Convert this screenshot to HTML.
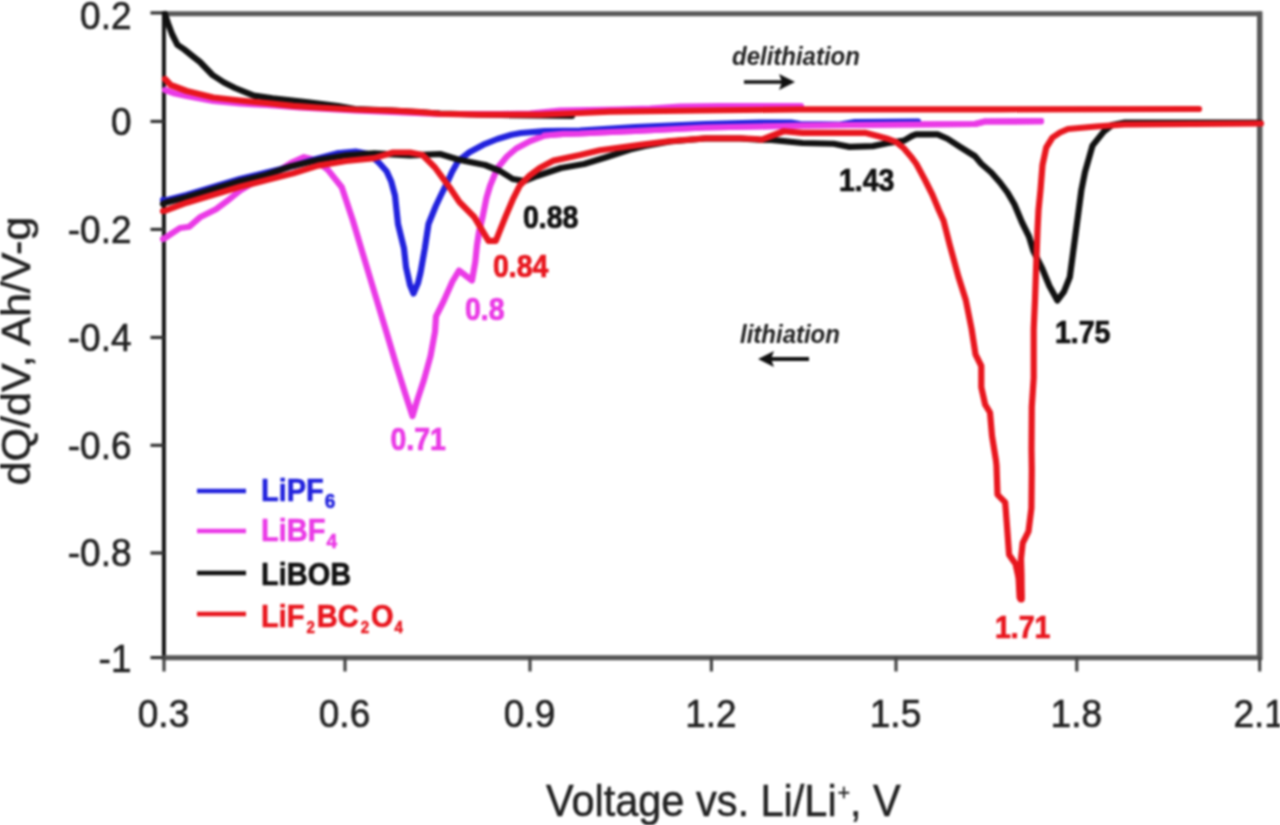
<!DOCTYPE html>
<html><head><meta charset="utf-8"><title>dQ/dV plot</title>
<style>html,body{margin:0;padding:0;background:#fff;width:1280px;height:825px;overflow:hidden}svg{display:block;filter:blur(0.9px)}</style>
</head><body>
<svg width="1280" height="825" viewBox="0 0 1280 825">
<g fill="none" stroke-linecap="butt">
<line x1="164" y1="13.7" x2="1262" y2="13.7" stroke="#585858" stroke-width="5"/>
<line x1="1259.7" y1="11.5" x2="1259.7" y2="660" stroke="#585858" stroke-width="5.5"/>
<line x1="163.9" y1="11" x2="163.9" y2="660" stroke="#151515" stroke-width="4"/>
<line x1="162" y1="657.7" x2="1262" y2="657.7" stroke="#555" stroke-width="5"/>
<line x1="150.5" y1="12.90" x2="164" y2="12.90" stroke="#333" stroke-width="3.2"/>
<line x1="150.5" y1="121.40" x2="164" y2="121.40" stroke="#333" stroke-width="3.2"/>
<line x1="150.5" y1="229.40" x2="164" y2="229.40" stroke="#333" stroke-width="3.2"/>
<line x1="150.5" y1="337.45" x2="164" y2="337.45" stroke="#333" stroke-width="3.2"/>
<line x1="150.5" y1="445.30" x2="164" y2="445.30" stroke="#333" stroke-width="3.2"/>
<line x1="150.5" y1="553.00" x2="164" y2="553.00" stroke="#333" stroke-width="3.2"/>
<line x1="150.5" y1="657.60" x2="164" y2="657.60" stroke="#333" stroke-width="3.2"/>
<line x1="164.00" y1="657" x2="164.00" y2="671.5" stroke="#444" stroke-width="3.2"/>
<line x1="345.00" y1="657" x2="345.00" y2="671.5" stroke="#444" stroke-width="3.2"/>
<line x1="530.00" y1="657" x2="530.00" y2="671.5" stroke="#444" stroke-width="3.2"/>
<line x1="711.40" y1="657" x2="711.40" y2="671.5" stroke="#444" stroke-width="3.2"/>
<line x1="896.00" y1="657" x2="896.00" y2="671.5" stroke="#444" stroke-width="3.2"/>
<line x1="1076.80" y1="657" x2="1076.80" y2="671.5" stroke="#444" stroke-width="3.2"/>
<line x1="1259.70" y1="657" x2="1259.70" y2="671.5" stroke="#444" stroke-width="3.2"/>
</g>
<g fill="none" stroke-width="6.2" stroke-linejoin="round" stroke-linecap="round">
<polyline stroke="#111" points="165,14 165.3,15.3 168,23.3 172,34 177.3,44.7 184,49.3 193.3,56.7 200,62 206.7,69 212.5,75 224,82.5 235,88 253.8,95.6 272.5,98.4 310,102.5 338,106 355,109 392,110.5 440,113.5 500,115 572,116"/>
<polyline stroke="#ea3ae6" points="165,90 175,93.5 186.7,96 213.3,101 240,103.5 266.7,105 300,107.5 355,110.5 440,114 500,114.2 530,113.5 560,110.5 617,109.5 650,108.5 680,106.5 720,106 801,106"/>
<polyline stroke="#e8161e" points="165,79 170.7,85 186.7,91 213.3,97.5 240,100.5 266.7,103 293.3,105.8 317.5,107.5 355,109.5 392.5,110.6 417.5,111.9 440,113.75 480,114.7 540,114.7 580,113 610,111.6 700,110.5 800,109.4 1000,109.3 1199,109"/>
<polyline stroke="#ea3ae6" points="163,239 164,238.7 180,228 189.3,226.7 200,217.3 216,209.3 226.7,201.3 240,190.7 253.3,182.7 266.7,177.3 280,170 293,162 304,157.2 315,160 327.5,169.4 341.8,187.3 352.7,220 363.6,256.4 374.5,292.7 385.5,329 396.4,365.5 405.5,394.5 412.5,416 417.5,399.4 424,379.7 430.6,355.7 435,331.7 436,316.4 443.7,301 452.4,281.5 459,270.6 472,280.4 475.3,261.8 477,245 479,232 482.5,217.6 486.4,198.2 490,186 494.1,176 497.5,168 506.9,156.5 516.25,148.5 530.3,141 544.4,135.5 563.1,133.9 580,133.5 600,132.5 635,131 705,127.5 780,126 800,125.5 900,124.5 975,124 985,121.5 1041,121.2"/>
<polyline stroke="#2222dd" points="163,200 165.3,200.5 186.7,195 213.3,187 240,179 266.7,172.5 293.3,166 318,158.5 336.9,153.4 355.6,151.6 369.7,154.4 379,162.8 386.6,171.25 391.25,181.6 395,195.6 398,224 404,248.5 406,267 410,285 413.5,293.5 418,283 420.5,272.7 424.8,248.5 428.5,224 435.8,206 441,195 447,183 452,172 458.2,161 469.4,152.2 483.4,144.7 497.5,139 511.6,134.8 521,133 544.4,131.1 580,130.5 635,127 705,124 760,122.5 791,122.5 800,124 840,124.5 855,122 918,121.5"/>
<polyline stroke="#ea3ae6" points="544.4,135.5 563.1,133.9 580,133.5 600,132.5 635,131 705,127.5 780,126 800,125.5 900,124.5 975,124 985,121.5 1041,121.2"/>
<polyline stroke="#111" points="163,204 165.3,202.7 186.7,197.3 213.3,189.3 240,181.3 266.7,174.7 290,166.6 318,160 346,155.3 374.4,153.4 410,155.3 440,154 458,159.5 470,162 485,165 500,171 512.7,179 524.8,181 537,176 561,168 584,164 607,157 630,149.5 645,146 670,141.5 705,138.5 740,138.5 762,140 771.3,139.8 802.5,143 833.75,143.75 849.4,146.9 872.8,146.1 888.4,143 904,140.6 911.9,136 916,134.4 937.5,134.4 947.5,138.75 960,146.9 975,156.25 981.25,163.75 991.25,172.5 1000,182.5 1007.5,192.5 1014.5,204.5 1021.8,222 1029,236.5 1033.4,251 1042.2,268.5 1049.4,286 1057.4,300.5 1064,291.7 1069.8,277.2 1072.7,255.4 1075.6,233.6 1078.5,211.8 1081.4,190 1085,172 1092.5,145.6 1103.75,131.6 1112,125 1125,122.5 1260,122.5"/>
<polyline stroke="#e8161e" points="163,211 165.3,210.7 186.7,202.7 213.3,194.7 240,186.7 266.7,180 293.3,173.3 318,165.6 346,161 374.4,158.1 393,152.5 410,152.5 422.5,155 435,167.5 449.7,187.6 459.4,202 474,216.7 488.5,240.9 495.8,240.9 505.5,216.7 512.7,199.7 520,185.2 529.7,175.5 539.7,168.1 553.75,160.6 580,155 600,150.2 642.2,144.6 670.3,141.1 705.5,138.3 740.6,138.3 755.6,139 761.7,139.7 771.3,136 783.75,131.25 802.5,132.8 865,132.8 877.5,136 888.4,139 896.25,142.2 904,148.4 911.9,157.8 916.25,163.75 925,180 932.5,195 938.75,210 943.6,220.7 949.5,244 958.2,276 965.8,300 971.6,329 975.5,354.3 981.3,366 981.3,387.3 985.2,404.7 990,412.5 992,435.8 995.9,460 996.5,465.5 997.5,494.6 1005.2,502.4 1007.1,527.6 1009.1,554.7 1015.9,564.4 1018.8,576 1020.7,599.3 1021.7,599.3 1021.5,575 1021,558.6 1022.7,543 1028.5,531.4 1031.4,508.2 1031.8,470 1031.5,450 1031.8,406.7 1033.7,377.6 1033.7,329 1035,300 1036.3,262.7 1037.5,230 1038.5,210 1040.5,190 1042.5,165 1046.25,147.5 1052.5,137.5 1060,132.5 1068,129 1096,126.5 1124.4,124.5 1261,123.5"/>
<polyline stroke="#e8161e" stroke-width="8" points="1017,566 1019.5,578 1020.5,597"/>
</g>
<g stroke-width="4.5">
<line x1="197" y1="491" x2="246" y2="491" stroke="#2222dd"/>
<line x1="197" y1="531" x2="246" y2="531" stroke="#ea3ae6"/>
<line x1="197" y1="573" x2="246" y2="573" stroke="#111"/>
<line x1="197" y1="614" x2="246" y2="614" stroke="#e8161e"/>
</g>
<text transform="translate(131.5,29.4) scale(1,1.07)" font-family="'Liberation Sans', sans-serif" font-size="37" fill="#222" text-anchor="end" stroke="#222" stroke-width="0.6">0.2</text>
<text transform="translate(131.5,135.4) scale(1,1.07)" font-family="'Liberation Sans', sans-serif" font-size="37" fill="#222" text-anchor="end" stroke="#222" stroke-width="0.6">0</text>
<text transform="translate(131.5,243.4) scale(1,1.07)" font-family="'Liberation Sans', sans-serif" font-size="37" fill="#222" text-anchor="end" stroke="#222" stroke-width="0.6">-0.2</text>
<text transform="translate(131.5,351.4) scale(1,1.07)" font-family="'Liberation Sans', sans-serif" font-size="37" fill="#222" text-anchor="end" stroke="#222" stroke-width="0.6">-0.4</text>
<text transform="translate(131.5,459.3) scale(1,1.07)" font-family="'Liberation Sans', sans-serif" font-size="37" fill="#222" text-anchor="end" stroke="#222" stroke-width="0.6">-0.6</text>
<text transform="translate(131.5,565.5) scale(1,1.07)" font-family="'Liberation Sans', sans-serif" font-size="37" fill="#222" text-anchor="end" stroke="#222" stroke-width="0.6">-0.8</text>
<text transform="translate(131.5,671.6) scale(1,1.07)" font-family="'Liberation Sans', sans-serif" font-size="37" fill="#222" text-anchor="end" stroke="#222" stroke-width="0.6">-1</text>
<text transform="translate(163.5,727) scale(1,1.07)" font-family="'Liberation Sans', sans-serif" font-size="37" fill="#222" text-anchor="middle" stroke="#222" stroke-width="0.6">0.3</text>
<text transform="translate(344.5,727) scale(1,1.07)" font-family="'Liberation Sans', sans-serif" font-size="37" fill="#222" text-anchor="middle" stroke="#222" stroke-width="0.6">0.6</text>
<text transform="translate(529.5,727) scale(1,1.07)" font-family="'Liberation Sans', sans-serif" font-size="37" fill="#222" text-anchor="middle" stroke="#222" stroke-width="0.6">0.9</text>
<text transform="translate(710.9,727) scale(1,1.07)" font-family="'Liberation Sans', sans-serif" font-size="37" fill="#222" text-anchor="middle" stroke="#222" stroke-width="0.6">1.2</text>
<text transform="translate(895.5,727) scale(1,1.07)" font-family="'Liberation Sans', sans-serif" font-size="37" fill="#222" text-anchor="middle" stroke="#222" stroke-width="0.6">1.5</text>
<text transform="translate(1076.3,727) scale(1,1.07)" font-family="'Liberation Sans', sans-serif" font-size="37" fill="#222" text-anchor="middle" stroke="#222" stroke-width="0.6">1.8</text>
<text transform="translate(1259.2,727) scale(1,1.07)" font-family="'Liberation Sans', sans-serif" font-size="37" fill="#222" text-anchor="middle" stroke="#222" stroke-width="0.6">2.1</text>
<text transform="translate(546,816) scale(1,1.05)" font-family="'Liberation Sans', sans-serif" font-size="41.5" fill="#222" stroke="#222" stroke-width="0.5">Voltage vs. Li/Li<tspan dx="1" dy="-15" font-size="21">+</tspan><tspan dy="15">, V</tspan></text>
<text transform="translate(30,351) scale(1,1.05) rotate(-90)" text-anchor="middle" font-family="'Liberation Sans', sans-serif" font-size="41" fill="#222" stroke="#222" stroke-width="0.5">dQ/dV, Ah/V-g</text>
<text transform="translate(261,501) scale(1,1.07)" font-family="'Liberation Sans', sans-serif" font-size="29" fill="#2222dd" font-weight="bold" stroke="#2222dd" stroke-width="0.5">LiPF<tspan dx="1" dy="7" font-size="19">6</tspan></text>
<text transform="translate(261,541) scale(1,1.07)" font-family="'Liberation Sans', sans-serif" font-size="29" fill="#ea3ae6" font-weight="bold" stroke="#ea3ae6" stroke-width="0.5">LiBF<tspan dx="1" dy="7" font-size="19">4</tspan></text>
<text transform="translate(261,585) scale(1,1.07)" font-family="'Liberation Sans', sans-serif" font-size="29" fill="#111" font-weight="bold" stroke="#111" stroke-width="0.5">LiBOB</text>
<text transform="translate(261,627) scale(1,1.07)" font-family="'Liberation Sans', sans-serif" font-size="29" fill="#e8161e" font-weight="bold" stroke="#e8161e" stroke-width="0.5">LiF<tspan dx="2" dy="6" font-size="15">2</tspan><tspan dx="2" dy="-6">BC</tspan><tspan dx="2" dy="6" font-size="15">2</tspan><tspan dx="2" dy="-6">O</tspan><tspan dx="1" dy="6" font-size="15">4</tspan></text>
<text transform="translate(390.5,449.5) scale(1,1.07)" font-family="'Liberation Sans', sans-serif" font-size="28.5" fill="#ea3ae6" font-weight="bold" stroke="#ea3ae6" stroke-width="0.7">0.71</text>
<text transform="translate(465,320) scale(1,1.07)" font-family="'Liberation Sans', sans-serif" font-size="28.5" fill="#ea3ae6" font-weight="bold" stroke="#ea3ae6" stroke-width="0.7">0.8</text>
<text transform="translate(493,277) scale(1,1.07)" font-family="'Liberation Sans', sans-serif" font-size="28.5" fill="#e8161e" font-weight="bold" stroke="#e8161e" stroke-width="0.7">0.84</text>
<text transform="translate(523,227.5) scale(1,1.07)" font-family="'Liberation Sans', sans-serif" font-size="28.5" fill="#111" font-weight="bold" stroke="#111" stroke-width="0.7">0.88</text>
<text transform="translate(839,190.5) scale(1,1.07)" font-family="'Liberation Sans', sans-serif" font-size="28.5" fill="#111" font-weight="bold" stroke="#111" stroke-width="0.7">1.43</text>
<text transform="translate(1055,343) scale(1,1.07)" font-family="'Liberation Sans', sans-serif" font-size="28.5" fill="#111" font-weight="bold" stroke="#111" stroke-width="0.7">1.75</text>
<text transform="translate(995,637.5) scale(1,1.07)" font-family="'Liberation Sans', sans-serif" font-size="28.5" fill="#e8161e" font-weight="bold" stroke="#e8161e" stroke-width="0.7">1.71</text>
<text transform="translate(732,64.5) scale(1,1.04)" font-family="'Liberation Sans', sans-serif" font-size="24" fill="#222" font-weight="bold" font-style="italic">delithiation</text>
<text transform="translate(740,342.5) scale(1,1.04)" font-family="'Liberation Sans', sans-serif" font-size="24" fill="#222" font-weight="bold" font-style="italic">lithiation</text>
<line x1="744" y1="82" x2="784" y2="82" stroke="#111" stroke-width="3.5"/>
<polygon points="795,82 779,74 782,82 779,90" fill="#111"/>
<line x1="770" y1="359" x2="809" y2="359" stroke="#111" stroke-width="4"/>
<polygon points="758,359 774,351 771,359 774,367" fill="#111"/>
</svg>
</body></html>
